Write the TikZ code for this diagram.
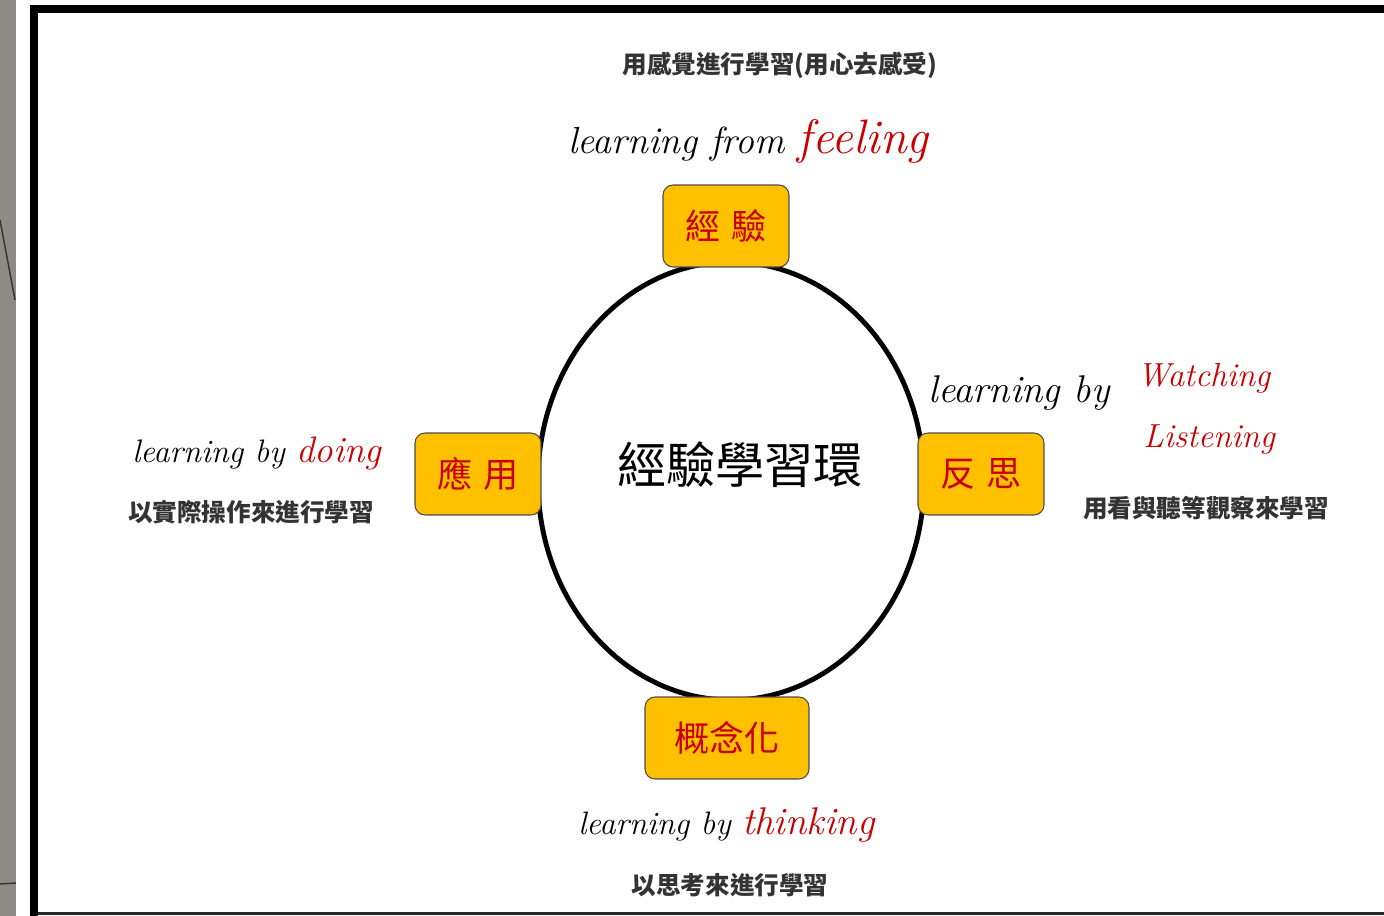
\documentclass[tikz,border=0pt]{standalone}
\usepackage{fontspec}
\usepackage{xcolor}
\usetikzlibrary{calc}
\newfontfamily\cjk{Noto Sans CJK TC}
\definecolor{amber}{HTML}{FFC000}
\definecolor{kred}{HTML}{C80000}
\definecolor{notegray}{HTML}{333333}
\definecolor{strip}{HTML}{8E8A86}

\tikzset{
    stage/.style={draw=black!70, line width=0.6pt, fill=amber, rounded corners=0.2cm,
        minimum width=2.52cm, minimum height=1.64cm, text=kred,
        font=\cjk\fontsize{20}{20}\selectfont},
    hand/.style={inner sep=0pt, font=\itshape\fontsize{21.5}{21.5}\selectfont},
    note/.style={inner sep=0pt, text=notegray, font=\cjk\bfseries\fontsize{14}{14}\selectfont},
}

\begin{document}
\begin{tikzpicture}[x=0.02cm,y=-0.02cm]

    \useasboundingbox (0,0) rectangle (1384,916);

    % Bande grise et cadre noir
    \fill[strip] (0,0) rectangle (16,916);
    \draw[black!80, line width=0.8pt] (0,220) -- (15,300);
    \draw[black!80, line width=0.8pt] (0,884) -- (16,883);
    \fill[black] (30,5) rectangle (1384,13);
    \fill[black] (30,5) rectangle (38,916);
    \fill[black!85] (38,912) rectangle (1384,915);

    % Le cycle
    \coordinate (O) at (731,481);
    \draw[line width=2.8pt] (O) ellipse [x radius=193, y radius=219];
    \node[font=\cjk\fontsize{28}{28}\selectfont] (title) at (740,465) {經驗學習環};

    % Les quatre etapes
    \node[stage] (exp) at (726,226) {經\,\,驗};
    \node[stage] (app) at (478,474) {應\,\,用};
    \node[stage] (ref) at (981,474) {反\,\,思};
    \node[stage, minimum width=3.28cm] (con) at (727,738) {概念化};

    % Textes manuscrits
    \node[hand, anchor=base west] (feel) at (568,153) {learning from \textcolor{kred}{\fontsize{27.5}{27.5}\selectfont feeling}};
    \node[hand, anchor=base west, font=\itshape\fontsize{18.5}{18.5}\selectfont] (doing) at (132,462) {learning by \textcolor{kred}{\fontsize{21}{21}\selectfont doing}};
    \node[hand, anchor=base west, font=\itshape\fontsize{22}{22}\selectfont] (watch) at (928,402) {learning by};
    \node[hand, anchor=base west, text=kred, font=\itshape\fontsize{19}{19}\selectfont] (watchw) at (1137,386) {Watching};
    \node[hand, anchor=base west, text=kred, font=\itshape\fontsize{19}{19}\selectfont] (listen) at (1143,447) {Listening};
    \node[hand, anchor=base west, font=\itshape\fontsize{18.5}{18.5}\selectfont] (think) at (578,834) {learning by \textcolor{kred}{\fontsize{22}{22}\selectfont thinking}};

    % Textes explicatifs
    \node[note] (feeltxt) at (780,65) {用感覺進行學習(用心去感受)};
    \node[note] (doingtxt) at (251,512) {以實際操作來進行學習};
    \node[note] (watchtxt) at (1206,508) {用看與聽等觀察來學習};
    \node[note] (thinktxt) at (730,885) {以思考來進行學習};
\end{tikzpicture}
\end{document}
